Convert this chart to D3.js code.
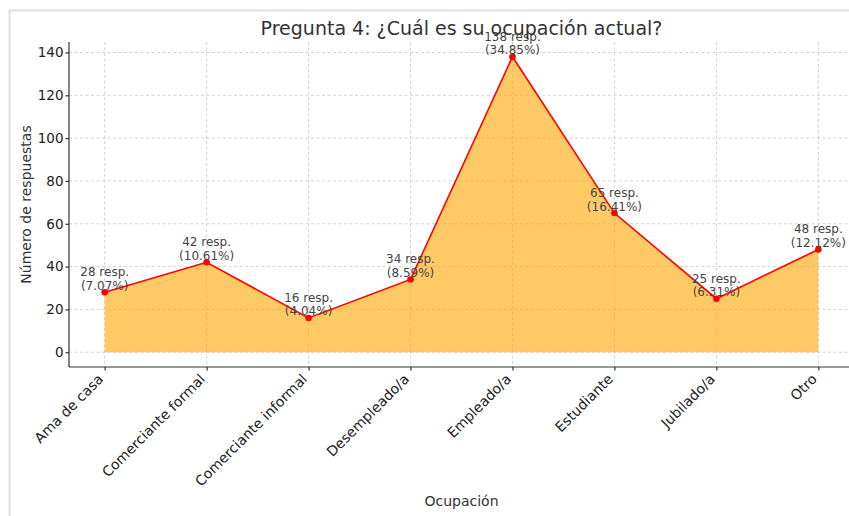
<!DOCTYPE html>
<html lang="es">
<head>
<meta charset="utf-8">
<title>Pregunta 4</title>
<style>
  body { margin: 0; background: #fff; }
  svg { display: block; font-family: "DejaVu Sans", sans-serif; }
  .grid line { stroke: #c8c8c8; stroke-width: 0.8px; stroke-dasharray: 3,2.5; }
  .axis path, .axis line { stroke: #333; stroke-width: 1.2px; fill: none; }
  .axis text { font-family: "DejaVu Sans", sans-serif; font-size: 13.5px; fill: #222; }
  .x.axis text { font-size: 14px; }
  .lbl { font-size: 12px; fill: #444; text-anchor: middle; }
</style>
</head>
<body>
<script src="https://cdnjs.cloudflare.com/ajax/libs/d3/7.8.5/d3.min.js"></script>
<script>
// data
var categories = ["Ama de casa", "Comerciante formal", "Comerciante informal", "Desempleado/a",
                  "Empleado/a", "Estudiante", "Jubilado/a", "Otro"];
var counts = [28, 42, 16, 34, 138, 65, 25, 48];
var yTicks = [0, 20, 40, 60, 80, 100, 120, 140];

var W = 849, H = 516;
var mLeft = 69, mRight = 854, mTop = 42, mBottom = 367;

var total = d3.sum(counts);
var data = categories.map(function(c, i) { return { cat: c, n: counts[i] }; });

var svg = d3.select("body").append("svg")
    .attr("width", W).attr("height", H);

// light frame around the picture
svg.append("path")
    .attr("d", "M9.5," + H + "V10.5H" + W)
    .attr("fill", "none").attr("stroke", "#dedede").attr("stroke-width", 2);

var x = d3.scalePoint().domain(categories).range([mLeft, mRight]).padding(0.35);
var y = d3.scaleLinear().domain([-6.9, 144.9]).range([mBottom, mTop]);

// grid
var grid = svg.append("g").attr("class", "grid");
grid.selectAll("line.v").data(categories).enter().append("line")
    .attr("x1", function(d) { return x(d); }).attr("x2", function(d) { return x(d); })
    .attr("y1", mTop).attr("y2", mBottom);
grid.selectAll("line.h").data(yTicks).enter().append("line")
    .attr("x1", mLeft).attr("x2", mRight)
    .attr("y1", function(d) { return y(d); }).attr("y2", function(d) { return y(d); });

// area + line
var area = d3.area()
    .x(function(d) { return x(d.cat); })
    .y0(y(0))
    .y1(function(d) { return y(d.n); });
svg.append("path").datum(data)
    .attr("d", area)
    .attr("fill", "#ffa500").attr("fill-opacity", 0.6);

var line = d3.line()
    .x(function(d) { return x(d.cat); })
    .y(function(d) { return y(d.n); });
svg.append("path").datum(data)
    .attr("d", line)
    .attr("fill", "none").attr("stroke", "#ff0000").attr("stroke-width", 1.6);

svg.selectAll("circle.pt").data(data).enter().append("circle")
    .attr("class", "pt")
    .attr("cx", function(d) { return x(d.cat); })
    .attr("cy", function(d) { return y(d.n); })
    .attr("r", 3.3)
    .attr("fill", "#ff0000");

// value labels
var lbl = svg.selectAll("text.lbl").data(data).enter().append("text")
    .attr("class", "lbl");
lbl.append("tspan")
    .attr("x", function(d) { return x(d.cat); })
    .attr("y", function(d) { return y(d.n) - 16; })
    .text(function(d) { return d.n + " resp."; });
lbl.append("tspan")
    .attr("x", function(d) { return x(d.cat); })
    .attr("y", function(d) { return y(d.n) - 2.5; })
    .text(function(d) { return "(" + (d.n / total * 100).toFixed(2) + "%)"; });

// axes
var yAxis = svg.append("g").attr("class", "y axis")
    .attr("transform", "translate(" + mLeft + ",0)")
    .call(d3.axisLeft(y).tickValues(yTicks).tickSizeInner(3.5).tickSizeOuter(0).tickPadding(2));
yAxis.select(".domain").attr("d", "M0," + mTop + "V" + mBottom);

var xAxis = svg.append("g").attr("class", "x axis")
    .attr("transform", "translate(0," + mBottom + ")")
    .call(d3.axisBottom(x).tickSizeInner(3.5).tickSizeOuter(0).tickPadding(3.5));
xAxis.select(".domain").attr("d", "M" + mLeft + ",0H" + W);
xAxis.selectAll(".tick text")
    .attr("text-anchor", "end")
    .attr("y", 0).attr("dy", 0)
    .attr("transform", "translate(-1,13) rotate(-45)");

// titles
svg.append("text")
    .attr("x", (mLeft + mRight) / 2).attr("y", 34.5)
    .attr("text-anchor", "middle")
    .attr("font-size", 19).attr("fill", "#333")
    .text("Pregunta 4: ¿Cuál es su ocupación actual?");

svg.append("text")
    .attr("x", (mLeft + mRight) / 2).attr("y", 506)
    .attr("text-anchor", "middle")
    .attr("font-size", 14).attr("fill", "#333")
    .text("Ocupación");

svg.append("text")
    .attr("transform", "translate(31," + ((mTop + mBottom) / 2) + ") rotate(-90)")
    .attr("text-anchor", "middle")
    .attr("font-size", 14).attr("fill", "#333")
    .text("Número de respuestas");
</script>
</body>
</html>
